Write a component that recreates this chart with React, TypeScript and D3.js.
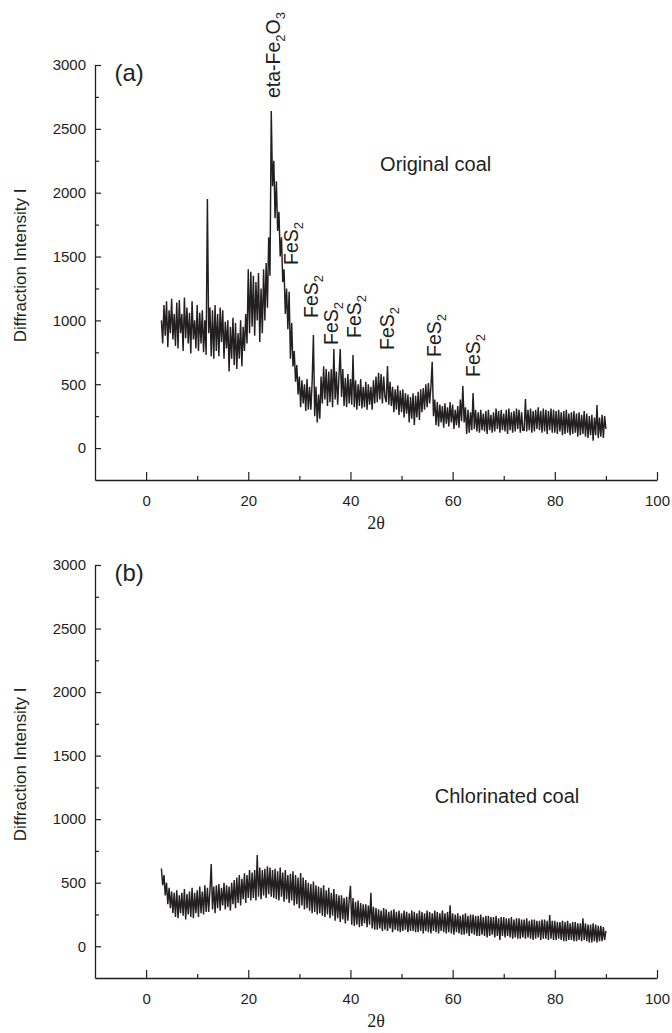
import React, { useEffect, useRef } from "react";
import * as d3 from "d3";

const W = 672;
const H = 1033;

// scan grid (2θ, degrees)
const angleStart = 3;
const angleStep = 0.25;

// (a) Original coal, intensity (3.00° … 90.00°, every 0.25°)
const originalCoal = [
  1000, 820, 1120, 880, 1150, 790, 1080, 900, 1170, 850, 1050, 800, 1140, 780, 1160, 900,
  1050, 760, 1180, 860, 1100, 820, 1060, 740, 1150, 850, 1000, 780, 1120, 760, 1060, 820,
  1080, 750, 1000, 730, 1950, 900, 1100, 720, 1080, 700, 1120, 760, 1050, 720, 1100, 830,
  1080, 700, 990, 780, 1000, 600, 950, 700, 1020, 650, 980, 620, 900, 700, 1000, 640,
  950, 760, 1050, 820, 1400, 900, 1380, 950, 1350, 880, 1300, 1000, 1370, 830, 1250, 900,
  1400, 1000, 1450, 1100, 1650, 1350, 2640, 2050, 2250, 1800, 2090, 1700, 1850, 1500, 1650, 1300,
  1400, 1050, 1250, 930, 1224, 700, 980, 640, 760, 520, 650, 420, 560, 320, 530, 350,
  500, 290, 540, 300, 480, 300, 520, 885, 250, 480, 200, 420, 230, 560, 350, 640,
  380, 620, 330, 600, 360, 620, 320, 776, 380, 600, 340, 560, 776, 400, 620, 330,
  550, 320, 580, 350, 540, 340, 729, 320, 530, 300, 500, 330, 540, 310, 480, 320,
  520, 300, 500, 340, 480, 300, 530, 350, 560, 360, 590, 380, 580, 350, 560, 400,
  360, 643, 340, 520, 330, 480, 280, 460, 300, 490, 260, 450, 280, 460, 240, 430,
  270, 420, 200, 400, 230, 430, 180, 410, 240, 440, 220, 460, 280, 470, 300, 500,
  320, 510, 350, 480, 676, 250, 380, 180, 360, 170, 340, 200, 330, 160, 350, 190,
  320, 170, 360, 200, 340, 150, 300, 180, 330, 160, 380, 210, 486, 200, 320, 110,
  300, 120, 280, 140, 431, 150, 300, 130, 280, 120, 300, 140, 270, 130, 290, 110,
  300, 140, 260, 120, 280, 130, 310, 150, 290, 120, 300, 140, 270, 130, 300, 110,
  310, 140, 280, 120, 290, 130, 310, 150, 300, 120, 280, 140, 140, 384, 130, 300,
  140, 310, 120, 290, 130, 300, 150, 320, 140, 290, 120, 310, 130, 300, 110, 290,
  140, 310, 120, 300, 120, 290, 110, 300, 130, 280, 100, 290, 110, 300, 120, 270,
  100, 280, 110, 290, 120, 270, 90, 280, 100, 260, 110, 290, 90, 270, 80, 250,
  100, 260, 58, 240, 100, 337, 80, 240, 90, 260, 80, 250, 150,
];

// (b) Chlorinated coal, intensity (3.00° … 90.00°, every 0.25°)
const chlorinatedCoal = [
  612, 480, 560, 400, 500, 330, 460, 300, 430, 260, 420, 230, 440, 220, 400, 260,
  420, 240, 450, 210, 410, 250, 430, 230, 460, 220, 420, 260, 440, 230, 470, 260,
  430, 250, 480, 270, 460, 270, 440, 646, 290, 470, 260, 480, 300, 490, 280, 460,
  320, 500, 290, 480, 310, 470, 280, 500, 330, 520, 300, 540, 340, 560, 320, 530,
  370, 575, 340, 560, 380, 600, 360, 580, 380, 600, 360, 717, 390, 620, 370, 600,
  400, 610, 380, 630, 410, 620, 390, 600, 380, 610, 370, 590, 360, 620, 390, 580,
  350, 600, 370, 560, 340, 570, 360, 590, 320, 560, 330, 540, 300, 577, 320, 540,
  290, 520, 300, 500, 280, 490, 260, 510, 270, 480, 250, 470, 260, 460, 240, 480,
  230, 440, 250, 460, 220, 420, 240, 450, 200, 410, 220, 400, 190, 400, 210, 380,
  180, 390, 200, 370, 475, 170, 380, 160, 350, 170, 360, 150, 340, 160, 330, 180,
  330, 150, 320, 170, 420, 140, 310, 130, 300, 130, 290, 140, 280, 120, 300, 130,
  290, 120, 270, 140, 280, 110, 290, 130, 270, 120, 280, 110, 260, 120, 280, 130,
  270, 110, 260, 120, 280, 120, 270, 110, 260, 110, 280, 120, 270, 100, 260, 120,
  280, 110, 270, 100, 260, 120, 280, 110, 270, 100, 260, 120, 280, 110, 260, 100,
  270, 110, 323, 100, 260, 90, 250, 110, 260, 100, 240, 90, 250, 90, 260, 100,
  240, 80, 250, 100, 250, 90, 240, 80, 240, 80, 250, 90, 230, 80, 240, 70,
  240, 80, 230, 90, 230, 70, 240, 80, 220, 50, 230, 80, 230, 70, 220, 80,
  220, 70, 230, 60, 210, 70, 220, 60, 220, 60, 210, 70, 210, 60, 220, 70,
  200, 60, 210, 50, 210, 60, 200, 70, 200, 50, 210, 60, 210, 60, 200, 50,
  246, 60, 200, 50, 200, 50, 190, 60, 190, 50, 200, 40, 190, 40, 200, 50,
  180, 50, 190, 40, 190, 40, 180, 50, 180, 40, 220, 50, 180, 40, 170, 30,
  170, 30, 180, 40, 170, 30, 160, 40, 160, 40, 150, 50, 120,
];

const xDomain = [-10, 100];
const yDomain = [-250, 3000];
const xTicks = [0, 20, 40, 60, 80, 100];
const xMinorTicks = [10, 30, 50, 70, 90];
const yTicks = [0, 500, 1000, 1500, 2000, 2500, 3000];
const yMinorTicks = [250, 750, 1250, 1750, 2250, 2750];

// phase labels on (a): text start position in data units (2θ, intensity)
const phaseNames = ["eta-Fe2O3", "FeS2", "FeS2", "FeS2", "FeS2", "FeS2", "FeS2", "FeS2"];
const phaseAngles = [26.2, 29.8, 33.55, 37.66, 41.97, 48.43, 57.82, 65.26];
const phaseIntensities = [2741, 1434, 1019, 807, 862, 768, 713, 557];

const SANS = "Arial, 'Liberation Sans', Helvetica, sans-serif";
const SERIF = "'Times New Roman', 'Liberation Serif', serif";
const INK = "#231f20";

const xScale = d3.scaleLinear().domain(xDomain).range([95, 657]);

type PanelProps = {
  data: number[];
  yTop: number;
  yBottom: number;
  tag: string;
  tagPos: [number, number];
  sample: string;
  samplePos: [number, number];
  showPhases: boolean;
};

function PhaseLabel({ name, x, y }: { name: string; x: number; y: number }) {
  const parts: { t: string; sub: boolean }[] = [];
  for (const ch of name) {
    const sub = /[0-9]/.test(ch);
    const last = parts[parts.length - 1];
    if (last && last.sub === sub) last.t += ch;
    else parts.push({ t: ch, sub });
  }
  let prevSub = false;
  return (
    <text
      transform={`translate(${x},${y}) rotate(-90)`}
      fontFamily={SANS}
      fontSize={19.5}
      fill={INK}
    >
      {parts.map((p, i) => {
        const dy = p.sub && !prevSub ? 5 : !p.sub && prevSub ? -5 : 0;
        prevSub = p.sub;
        return (
          <tspan key={i} dy={dy} fontSize={p.sub ? 13 : 19.5}>
            {p.t}
          </tspan>
        );
      })}
    </text>
  );
}

function Panel({ data, yTop, yBottom, tag, tagPos, sample, samplePos, showPhases }: PanelProps) {
  const gx = useRef<SVGGElement>(null);
  const gy = useRef<SVGGElement>(null);
  const yScale = d3.scaleLinear().domain(yDomain).range([yBottom, yTop]);

  useEffect(() => {
    const sx = d3.select(gx.current);
    sx.selectAll("*").remove();
    const minorX = sx.append("g");
    minorX.call(
      d3.axisBottom(xScale).tickValues(xMinorTicks).tickSizeInner(-4).tickSizeOuter(0).tickFormat(() => "")
    );
    minorX.select(".domain").remove();
    const majorX = sx.append("g");
    majorX.call(
      d3.axisBottom(xScale).tickValues(xTicks).tickSizeInner(-8).tickSizeOuter(0).tickPadding(15).tickFormat(d3.format("d"))
    );
    sx.selectAll("text").attr("font-size", 15).attr("font-family", SANS).attr("fill", INK);
    sx.selectAll("line").attr("stroke", INK).attr("stroke-width", 1.2);
    sx.selectAll(".domain").attr("stroke", INK).attr("stroke-width", 1.3);

    const sy = d3.select(gy.current);
    sy.selectAll("*").remove();
    const minorY = sy.append("g");
    minorY.call(
      d3.axisLeft(yScale).tickValues(yMinorTicks).tickSizeInner(-4).tickSizeOuter(0).tickFormat(() => "")
    );
    minorY.select(".domain").remove();
    const majorY = sy.append("g");
    majorY.call(
      d3.axisLeft(yScale).tickValues(yTicks).tickSizeInner(-6).tickSizeOuter(0).tickPadding(9).tickFormat(d3.format("d"))
    );
    sy.selectAll("text").attr("font-size", 15).attr("font-family", SANS).attr("fill", INK);
    sy.selectAll("line").attr("stroke", INK).attr("stroke-width", 1.2);
    sy.selectAll(".domain").attr("stroke", INK).attr("stroke-width", 1.3);
  }, [yTop, yBottom]);

  const line = d3
    .line<number>()
    .x((_, i) => xScale(angleStart + i * angleStep))
    .y((d) => yScale(d));

  const midX = (xScale.range()[0] + xScale.range()[1]) / 2;

  return (
    <g>
      <path d={line(data) ?? ""} fill="none" stroke={INK} strokeWidth={1.45} strokeLinejoin="miter" strokeMiterlimit={3} />
      <g ref={gx} transform={`translate(0,${yBottom})`} />
      <g ref={gy} transform={`translate(${xScale(xDomain[0])},0)`} />
      <text
        transform={`translate(26,${(yTop + yBottom) / 2 - 7}) rotate(-90)`}
        textAnchor="middle"
        fontFamily={SANS}
        fontSize={17}
        fill={INK}
      >
        Diffraction Intensity I
      </text>
      <text x={midX} y={yBottom + 49} textAnchor="middle" fontFamily={SERIF} fontSize={18} fill={INK}>
        2θ
      </text>
      <text x={xScale(tagPos[0])} y={yScale(tagPos[1])} fontFamily={SANS} fontSize={24} fill={INK}>
        {tag}
      </text>
      <text x={xScale(samplePos[0])} y={yScale(samplePos[1])} fontFamily={SANS} fontSize={20} fill={INK}>
        {sample}
      </text>
      {showPhases &&
        phaseNames.map((n, i) => (
          <PhaseLabel key={i} name={n} x={xScale(phaseAngles[i])} y={yScale(phaseIntensities[i])} />
        ))}
    </g>
  );
}

export default function App() {
  return (
    <svg
      width={W}
      height={H}
      viewBox={`0 0 ${W} ${H}`}
      style={{ position: "absolute", left: 0, top: 0, background: "#fff" }}
    >
      <rect width={W} height={H} fill="#fff" />
      <Panel
        data={originalCoal}
        yTop={65}
        yBottom={480}
        tag="(a)"
        tagPos={[-6.2, 2874]}
        sample="Original coal"
        samplePos={[45.8, 2170]}
        showPhases={true}
      />
      <Panel
        data={chlorinatedCoal}
        yTop={565}
        yBottom={978}
        tag="(b)"
        tagPos={[-6.2, 2874]}
        sample="Chlorinated coal"
        samplePos={[56.5, 1126]}
        showPhases={false}
      />
    </svg>
  );
}
